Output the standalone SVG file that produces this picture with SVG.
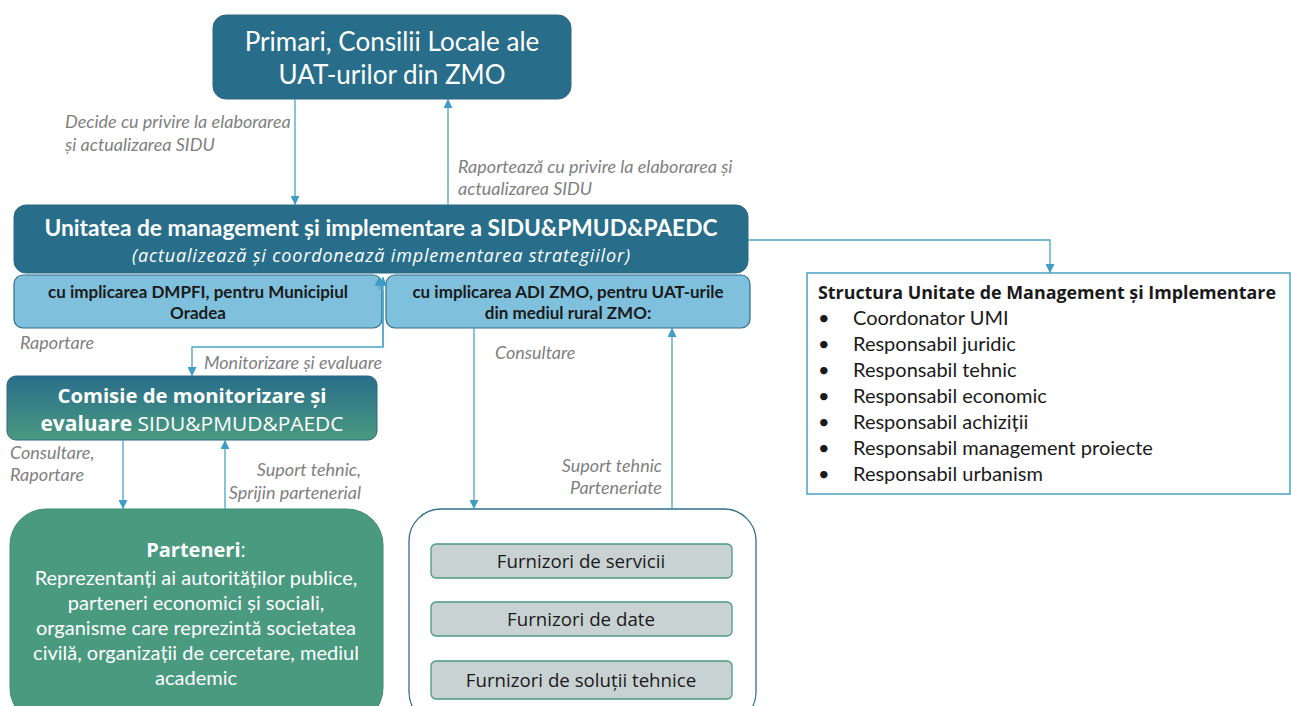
<svg xmlns="http://www.w3.org/2000/svg" width="1291" height="706" viewBox="0 0 1291 706">
<defs>
<marker id="arr" viewBox="0 0 10 10" refX="10" refY="5" markerWidth="9" markerHeight="9" markerUnits="userSpaceOnUse" orient="auto">
<path d="M0,0 L10,5 L0,10 z" fill="#3d9dc6"/>
</marker>
<linearGradient id="gcom" x1="0" y1="0" x2="0" y2="1">
<stop offset="0" stop-color="#296e8b"/>
<stop offset="1" stop-color="#4a9a80"/>
</linearGradient>
<style>
text{font-family:Lato,"Open Sans","Liberation Sans",sans-serif}
.os{font-family:"Open Sans","Noto Sans","Liberation Sans",sans-serif}
.dark{fill:#286e8a;stroke:#2a6882;stroke-width:1}
.light{fill:#7fc0dc;stroke:#2e6f8c;stroke-width:1.2}
.wt{fill:#ffffff}
.lbl{fill:#7f7f7f;font-style:italic;font-size:18px}
.conn{fill:none;stroke:#4aa3c8;stroke-width:1.3}
.furn{fill:#c9d2d3;stroke:#4a9a80;stroke-width:1.3}
.ft{fill:#1a1a1a;font-size:18.7px;text-anchor:middle}
.li{fill:#1a1a1a;font-size:20px}
</style>
</defs>
<rect width="1291" height="706" fill="#ffffff"/>

<g id="primari">
<rect x="213" y="15" width="358" height="84" rx="13" class="dark"/>
<text x="392" y="51" class="wt" font-size="26" text-anchor="middle">Primari, Consilii Locale ale</text>
<text x="392" y="84" class="wt" font-size="26" text-anchor="middle">UAT-urilor din ZMO</text>
</g>

<g id="umi">
<rect x="14" y="205" width="734" height="68" rx="12" class="dark"/>
<text x="381" y="236" class="wt" font-size="22.5" font-weight="bold" text-anchor="middle" textLength="673" lengthAdjust="spacingAndGlyphs">Unitatea de management și implementare a SIDU&amp;PMUD&amp;PAEDC</text>
<text x="381" y="262" class="wt os" font-size="18" font-style="italic" text-anchor="middle" textLength="498" lengthAdjust="spacing">(actualizează și coordonează implementarea strategiilor)</text>
</g>

<g id="dmpfi">
<rect x="14" y="275" width="368" height="53" rx="9" class="light"/>
<text x="198" y="298" fill="#1a1a1a" font-size="17" font-weight="bold" text-anchor="middle">cu implicarea DMPFI, pentru Municipiul</text>
<text x="198" y="319" fill="#1a1a1a" font-size="17" font-weight="bold" text-anchor="middle">Oradea</text>
</g>

<g id="adi">
<rect x="386" y="275" width="364" height="53" rx="9" class="light"/>
<text x="568" y="298" fill="#1a1a1a" font-size="17" font-weight="bold" text-anchor="middle">cu implicarea ADI ZMO, pentru UAT-urile</text>
<text x="568" y="319" fill="#1a1a1a" font-size="17" font-weight="bold" text-anchor="middle">din mediul rural ZMO:</text>
</g>

<g id="structura">
<rect x="807" y="273" width="483" height="221" fill="#ffffff" stroke="#4aa3c8" stroke-width="1.5"/>
<text x="818" y="299" class="os" fill="#1a1a1a" font-size="18" font-weight="bold" textLength="458" lengthAdjust="spacingAndGlyphs">Structura Unitate de Management și Implementare</text>
<g class="li os">
<text x="818" y="325">•</text><text x="853" y="325">Coordonator UMI</text>
<text x="818" y="351">•</text><text x="853" y="351">Responsabil juridic</text>
<text x="818" y="377">•</text><text x="853" y="377">Responsabil tehnic</text>
<text x="818" y="403">•</text><text x="853" y="403">Responsabil economic</text>
<text x="818" y="429">•</text><text x="853" y="429">Responsabil achiziții</text>
<text x="818" y="455">•</text><text x="853" y="455">Responsabil management proiecte</text>
<text x="818" y="481">•</text><text x="853" y="481">Responsabil urbanism</text>
</g>
</g>

<g id="comisie">
<rect x="7" y="376" width="370" height="64" rx="9" fill="url(#gcom)" stroke="#2a6882" stroke-width="1"/>
<text x="192" y="403" class="wt os" font-size="20" font-weight="bold" text-anchor="middle" textLength="269" lengthAdjust="spacingAndGlyphs">Comisie de monitorizare și</text>
<text x="192" y="431" class="wt os" font-size="20.5" text-anchor="middle" textLength="303" lengthAdjust="spacingAndGlyphs"><tspan font-weight="bold">evaluare</tspan> SIDU&amp;PMUD&amp;PAEDC</text>
</g>

<g id="parteneri">
<rect x="10" y="509" width="373" height="215" rx="36" fill="#4a9a80" stroke="#3f8a72" stroke-width="1"/>
<text x="196" y="557" class="wt os" font-size="20" text-anchor="middle"><tspan font-weight="bold">Parteneri</tspan>:</text>
<g class="wt os" font-size="20" text-anchor="middle">
<text x="196" y="585">Reprezentanți ai autorităților publice,</text>
<text x="196" y="610">parteneri economici și sociali,</text>
<text x="196" y="635">organisme care reprezintă societatea</text>
<text x="196" y="660">civilă, organizații de cercetare, mediul</text>
<text x="196" y="685">academic</text>
</g>
</g>

<g id="furnizori">
<rect x="409" y="509" width="347" height="215" rx="32" fill="#ffffff" stroke="#2e6f8c" stroke-width="1.3"/>
<rect x="431" y="544" width="301" height="34" rx="5" class="furn"/>
<text x="581" y="568" class="ft os">Furnizori de servicii</text>
<rect x="431" y="602" width="301" height="34" rx="5" class="furn"/>
<text x="581" y="626" class="ft os">Furnizori de date</text>
<rect x="431" y="661" width="301" height="38" rx="5" class="furn"/>
<text x="581" y="687" class="ft os">Furnizori de soluții tehnice</text>
</g>

<g id="connectors">
<path d="M295,99 V205" class="conn" marker-end="url(#arr)"/>
<path d="M448,205 V99" class="conn" marker-end="url(#arr)"/>
<path d="M748,240 H1050 V273" class="conn" marker-end="url(#arr)"/>
<path d="M383,347 V277" class="conn" marker-end="url(#arr)"/>
<path d="M379,290 V277" class="conn" marker-end="url(#arr)"/>
<path d="M383,290 V347 H192 V376" class="conn" marker-end="url(#arr)"/>
<path d="M474,328 V509" class="conn" marker-end="url(#arr)"/>
<path d="M672,509 V328" class="conn" marker-end="url(#arr)"/>
<path d="M123,440 V509" class="conn" marker-end="url(#arr)"/>
<path d="M225,509 V440" class="conn" marker-end="url(#arr)"/>
</g>

<g id="labels">
<text x="65" y="128" class="lbl">Decide cu privire la elaborarea</text>
<text x="65" y="151" class="lbl">și actualizarea SIDU</text>
<text x="458" y="173" class="lbl">Raportează cu privire la elaborarea și</text>
<text x="458" y="195" class="lbl">actualizarea SIDU</text>
<text x="20" y="349" class="lbl">Raportare</text>
<text x="204" y="369" class="lbl">Monitorizare și evaluare</text>
<text x="495" y="359" class="lbl">Consultare</text>
<text x="662" y="472" class="lbl" text-anchor="end">Suport tehnic</text>
<text x="662" y="494" class="lbl" text-anchor="end">Parteneriate</text>
<text x="10" y="459" class="lbl">Consultare,</text>
<text x="10" y="481" class="lbl">Raportare</text>
<text x="361" y="476" class="lbl" text-anchor="end">Suport tehnic,</text>
<text x="361" y="499" class="lbl" text-anchor="end">Sprijin partenerial</text>
</g>
</svg>
